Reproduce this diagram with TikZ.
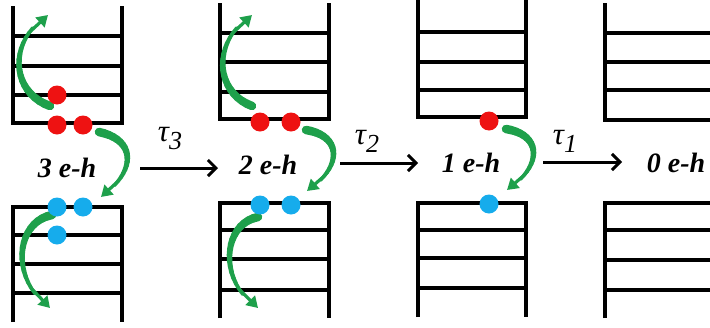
\documentclass[tikz,border=0pt]{standalone}
\usepackage{fontspec}
\setmainfont{LiberationSerif}[Extension=.ttf, UprightFont=*-Regular, BoldFont=*-Bold, ItalicFont=*-Italic, BoldItalicFont=*-BoldItalic]
\usetikzlibrary{arrows.meta}
\definecolor{eRed}{RGB}{238,18,18}
\definecolor{hBlue}{RGB}{22,172,236}
\definecolor{swoosh}{RGB}{30,160,75}

\tikzset{
  rail/.style={line width=4pt, line cap=butt, line join=miter},
  rung/.style={line width=4pt, line cap=butt},
  elec/.style={circle, fill=eRed, minimum size=19pt, inner sep=0pt},
  hole/.style={circle, fill=hBlue, minimum size=19pt, inner sep=0pt},
  lbl/.style={font=\fontsize{28}{28}\selectfont\bfseries\itshape, inner sep=0pt},
  taulbl/.style={font=\fontsize{31}{31}\selectfont\itshape, inner sep=0pt},
  transit/.style={line width=3pt, -{Straight Barb[length=8pt,width=16pt]}},
}

% tapered green curved arrow: start, control1, control2, tip
\newcommand\swooshArrow[4]{%
  \foreach \k in {0,...,20}{\path #1 .. controls #2 and #3 .. #4 coordinate[pos=\k/20] (sw\k);}
  \foreach \k in {0,...,16}{%
    \pgfmathtruncatemacro\kn{\k+1}%
    \pgfmathsetlengthmacro\ww{8.5pt-5pt*\k/16}%
    \draw[swoosh, line width=\ww, line cap=round] (sw\k) -- (sw\kn);}
  \draw[swoosh, line width=3.2pt, -{Triangle[length=11pt,width=13pt]}] (sw16) -- (sw20);
}

% ladder: left, right, end-of-rails, rung list, closing rung
\newcommand\ladderPart[5]{%
  \draw[rail] (#1,#3) -- (#1,#5) -- (#2,#5) -- (#2,#3);
  \foreach \yy in {#4}{\draw[rung] (#1,\yy) -- (#2,\yy);}
}

\newcommand\taulabel[1]{τ\raisebox{-8pt}{\fontsize{26}{26}\selectfont #1}}

\begin{document}
\begin{tikzpicture}[x=1pt,y=-1pt]
\useasboundingbox (0,0) rectangle (710,327);

% ---------- panel 1 : 3 e-h ----------
\ladderPart{13}{122}{6}{36,66,95}{123}
\ladderPart{13}{122}{322}{235,264,293}{207}
\swooshArrow{(50,106)}{(10,92)}{(8,40)}{(48,15)}
\swooshArrow{(99,132)}{(137,140)}{(136,172)}{(101,197)}
\swooshArrow{(52,215)}{(15,222)}{(10,280)}{(50,308)}
\node[elec] (e1a) at (57,95) {};
\node[elec] (e1b) at (57,125) {};
\node[elec] (e1c) at (83,125) {};
\node[hole] (h1a) at (57,207) {};
\node[hole] (h1b) at (83,207) {};
\node[hole] (h1c) at (57,235) {};
\node[lbl] (n3) at (67,168) {3 e-h};

% ---------- panel 2 : 2 e-h ----------
\ladderPart{220}{329}{3}{33,62,92}{119}
\ladderPart{220}{329}{318}{230,259,290}{203}
\swooshArrow{(252,106)}{(214,92)}{(212,40)}{(252,15)}
\swooshArrow{(306,130)}{(343,136)}{(342,168)}{(307,191)}
\swooshArrow{(258,217)}{(222,224)}{(218,282)}{(258,308)}
\node[elec] (e2a) at (260,122) {};
\node[elec] (e2b) at (291,122) {};
\node[hole] (h2a) at (260,205) {};
\node[hole] (h2b) at (291,205) {};
\node[lbl] (n2) at (268,165) {2 e-h};

% ---------- panel 3 : 1 e-h ----------
\ladderPart{418}{526}{0}{32,62,90}{117}
\ladderPart{418}{526}{317}{230,258,288}{203}
\swooshArrow{(506,129)}{(543,135)}{(542,167)}{(507,190)}
\node[elec] (e3a) at (489,121) {};
\node[hole] (h3a) at (489,204) {};
\node[lbl] (n1) at (471,163) {1 e-h};

% ---------- panel 4 : 0 e-h ----------
\draw[rail] (605,3) -- (605,120) -- (710,120);
\foreach \yy in {33,62,90}{\draw[rung] (605,\yy) -- (710,\yy);}
\draw[rail] (605,318) -- (605,203) -- (710,203);
\foreach \yy in {230,260,290}{\draw[rung] (605,\yy) -- (710,\yy);}
\node[lbl] (n0) at (676,163) {0 e-h};

% ---------- transitions ----------
\coordinate (t3s) at (140,168); \coordinate (t3e) at (218,168);
\coordinate (t2s) at (340,163); \coordinate (t2e) at (418,163);
\coordinate (t1s) at (543,162); \coordinate (t1e) at (622,162);
\draw[transit] (t3s) -- (t3e);
\draw[transit] (t2s) -- (t2e);
\draw[transit] (t1s) -- (t1e);
\node[taulbl] (tau3) at (170,139) {\taulabel{3}};
\node[taulbl] (tau2) at (367,141) {\taulabel{2}};
\node[taulbl] (tau1) at (565,141) {\taulabel{1}};
\end{tikzpicture}
\end{document}
